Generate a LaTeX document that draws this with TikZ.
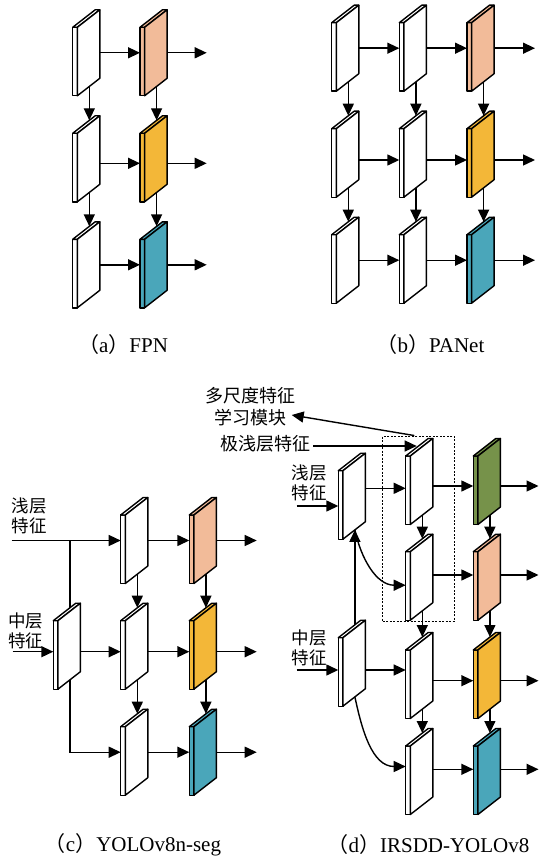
\documentclass[tikz,border=0pt]{standalone}
\usepackage{fontspec}
\setmainfont{Liberation Serif}
\newfontfamily\cjk{Noto Sans CJK SC}
\usetikzlibrary{arrows.meta}
\definecolor{peach}{RGB}{242,187,153}
\definecolor{gold}{RGB}{243,183,56}
\definecolor{teal}{RGB}{74,166,186}
\definecolor{olive}{RGB}{118,146,74}
\tikzset{
  arr/.style={line width=1.4pt, -{Triangle[length=12pt,width=11pt]}},
  ln/.style={line width=1.4pt},
  zh/.style={font=\cjk\fontsize{17.5}{20}\selectfont, align=center, inner sep=0pt},
  captxt/.style={font=\fontsize{21}{24}\selectfont, inner sep=0pt},
  dbox/.style={draw, dash pattern=on 2pt off 1.5pt, line width=0.9pt, inner sep=0pt},
  pics/blk/.style={code={
    \filldraw[fill=#1, line width=1.4pt, line join=round] (0,0) rectangle (4.6,68.5);
    \filldraw[fill=#1, line width=1.4pt, line join=round] (0,0) -- (22.5,-17.5) -- (27.1,-17.5) -- (4.6,0) -- cycle;
    \filldraw[fill=#1, line width=1.4pt, line join=round] (4.6,0) -- (27.1,-17.5) -- (27.1,51) -- (4.6,68.5) -- cycle;
    \coordinate (-w) at (0,25.5);
    \coordinate (-e) at (27.1,25.5);
    \coordinate (-t) at (16.6,-13);
    \coordinate (-b) at (16.6,59.2);
    \coordinate (-tf) at (11,-10);
  }}
}
\begin{document}
\begin{tikzpicture}[x=1pt,y=-1pt]
\useasboundingbox (0,0) rectangle (539,861);

% ---------- (a) FPN ----------
\pic (a11) at (72.7,27.3) {blk=white};
\pic (a12) at (140,27.3) {blk=peach};
\pic (a21) at (72.7,133.3) {blk=white};
\pic (a22) at (140,133.3) {blk=gold};
\pic (a31) at (72.7,239.3) {blk=white};
\pic (a32) at (140,239.3) {blk=teal};
\coordinate (ao1) at (206.7,52.8);
\coordinate (ao2) at (206.7,163.3);
\coordinate (ao3) at (206.7,264.8);
\draw[arr] (a11-e) -- (a12-w);
\draw[arr] ([yshift=-4.5pt]a21-e) -- ([yshift=-4.5pt]a22-w);
\draw[arr] (a31-e) -- (a32-w);
\draw[arr] (a12-e) -- (ao1);
\draw[arr] ([yshift=-4.5pt]a22-e) -- (ao2);
\draw[arr] (a32-e) -- (ao3);
\draw[arr] (a11-b) -- (a21-t);
\draw[arr] (a21-b) -- (a31-t);
\draw[arr] (a12-b) -- (a22-t);
\draw[arr] (a22-b) -- (a32-t);
\node[captxt] (capa) at (123,345) {{\cjk （}a{\cjk ）}FPN};

% ---------- (b) PANet ----------
\pic (b11) at (331.7,22.7) {blk=white};
\pic (b12) at (399.3,22.7) {blk=white};
\pic (b13) at (467,22.7) {blk=peach};
\pic (b21) at (331.7,128.7) {blk=white};
\pic (b22) at (399.3,128.7) {blk=white};
\pic (b23) at (467,128.7) {blk=gold};
\pic (b31) at (331.7,234.7) {blk=white};
\pic (b32) at (399.3,234.7) {blk=white};
\pic (b33) at (467,234.7) {blk=teal};
\coordinate (bo1) at (535,48.2);
\coordinate (bo2) at (535,160);
\coordinate (bo3) at (535,260.2);
\draw[arr] (b11-e) -- (b12-w);
\draw[arr] (b12-e) -- (b13-w);
\draw[arr] (b13-e) -- (bo1);
\draw[arr] ([yshift=-5.8pt]b21-e) -- ([yshift=-5.8pt]b22-w);
\draw[arr] ([yshift=-5.8pt]b22-e) -- ([yshift=-5.8pt]b23-w);
\draw[arr] ([yshift=-5.8pt]b23-e) -- (bo2);
\draw[arr] (b31-e) -- (b32-w);
\draw[arr] (b32-e) -- (b33-w);
\draw[arr] (b33-e) -- (bo3);
\draw[arr] (b11-b) -- (b21-t);
\draw[arr] (b21-b) -- (b31-t);
\draw[arr] (b12-b) -- (b22-t);
\draw[arr] (b22-b) -- (b32-t);
\draw[arr] (b13-b) -- (b23-t);
\draw[arr] (b23-b) -- (b33-t);
\node[captxt] (capb) at (430.5,345) {{\cjk （}b{\cjk ）}PANet};

% ---------- (c) YOLOv8n-seg ----------
\pic (c11) at (120.7,515) {blk=white};
\pic (c12) at (189.3,515) {blk=peach};
\pic (c21) at (120.7,620.7) {blk=white};
\pic (c22) at (189.3,620.7) {blk=gold};
\pic (c31) at (120.7,726.7) {blk=white};
\pic (c32) at (189.3,726.7) {blk=teal};
\pic (cL) at (53.3,620.7) {blk=white};
\node[zh] (lc1) at (29.2,515.5) {浅层\\特征};
\node[zh] (lc2) at (25.8,630.5) {中层\\特征};
\coordinate (cin1) at (11.7,540.5);
\coordinate (cin2) at (12.7,651.7);
\coordinate (cbr) at (cL-t |- c11-w);
\coordinate (co1) at (256.7,540.5);
\coordinate (co2) at (256.7,651.7);
\coordinate (co3) at (256.7,752.2);
\draw[arr] (cin1) -- (c11-w);
\draw[ln] (cbr) -- (cL-t);
\draw[arr] (cin2) -- ([yshift=-5.5pt]cL-w);
\draw[arr] ([yshift=-5.5pt]cL-e) -- ([yshift=-5.5pt]c21-w);
\draw[arr] (cL-b) |- (c31-w);
\draw[arr] (c11-e) -- (c12-w);
\draw[arr] ([yshift=-5.5pt]c21-e) -- ([yshift=-5.5pt]c22-w);
\draw[arr] (c31-e) -- (c32-w);
\draw[arr] (c12-e) -- (co1);
\draw[arr] ([yshift=-5.5pt]c22-e) -- (co2);
\draw[arr] (c32-e) -- (co3);
\draw[arr] (c11-b) -- (c21-t);
\draw[arr] (c21-b) -- (c31-t);
\draw[arr] (c12-b) -- (c22-t);
\draw[arr] (c22-b) -- (c32-t);
\node[captxt] (capc) at (133,845) {{\cjk （}c{\cjk ）}YOLOv8n-seg};

% ---------- (d) IRSDD-YOLOv8 ----------
\pic (dL1) at (338.3,470.7) {blk=white};
\pic (dL2) at (338.3,637.7) {blk=white};
\pic (d1) at (405.7,456) {blk=white};
\pic (d2) at (405.7,551.7) {blk=white};
\pic (d3) at (405.7,650) {blk=white};
\pic (d4) at (405.7,746) {blk=white};
\pic (g1) at (473.3,456) {blk=olive};
\pic (g2) at (473.3,551.7) {blk=peach};
\pic (g3) at (473.3,650) {blk=gold};
\pic (g4) at (473.3,746) {blk=teal};
\node[dbox, minimum width=71.3pt, minimum height=185.7pt] (box) at (418.35,528.85) {};
\node[zh, font=\cjk\fontsize{18}{22}\selectfont] (lm) at (250,406.5) {多尺度特征\\学习模块};
\node[zh, font=\cjk\fontsize{18}{22}\selectfont] (lx) at (265,443.7) {极浅层特征};
\node[zh] (ld1) at (309.2,482.5) {浅层\\特征};
\node[zh] (ld2) at (309.2,647.5) {中层\\特征};
\coordinate (mtip) at (291.7,415);
\coordinate (xin) at (313.3,446);
\coordinate (din1) at (296.7,506);
\coordinate (din2) at (296.7,670);
\coordinate (do1) at (538.5,486);
\coordinate (do2) at (538.5,575);
\coordinate (do3) at (538.5,680.7);
\coordinate (do4) at (538.5,769.3);
\draw[arr] ([xshift=-4pt]box.north) -- (mtip);
\draw[arr] (xin) -- (d1-tf);
\draw[arr] (din1) -- ([yshift=-9.8pt]dL1-w);
\draw[arr] (din2) -- ([yshift=-6.8pt]dL2-w);
\draw[arr] ([yshift=7.9pt]dL1-e) -- ([yshift=-6.8pt]d1-w);
\draw[arr] ([yshift=-6.8pt]dL2-e) -- ([yshift=5.5pt]d3-w);
\draw[arr] (dL2-t) -- (dL1-b);
\draw[arr] (dL1-b) to[out=-78,in=180] ([yshift=-8pt]d2-w);
\draw[arr] (dL2-b) to[out=-78,in=180] ([yshift=5pt]d4-w);
\draw[arr] ([yshift=-4.5pt]d1-e) -- ([yshift=-4.5pt]g1-w);
\draw[arr] ([yshift=2.2pt]d2-e) -- ([yshift=2.2pt]g2-w);
\draw[arr] ([yshift=-5.2pt]d3-e) -- ([yshift=-5.2pt]g3-w);
\draw[arr] ([yshift=2.2pt]d4-e) -- ([yshift=2.2pt]g4-w);
\draw[arr] ([yshift=-4.5pt]g1-e) -- (do1);
\draw[arr] ([yshift=2.2pt]g2-e) -- (do2);
\draw[arr] ([yshift=-5.2pt]g3-e) -- (do3);
\draw[arr] ([yshift=2.2pt]g4-e) -- (do4);
\draw[arr] (d1-b) -- (d2-t);
\draw[arr] (d2-b) -- (d3-t);
\draw[arr] (d3-b) -- (d4-t);
\draw[arr] (g1-b) -- (g2-t);
\draw[arr] (g2-b) -- (g3-t);
\draw[arr] (g3-b) -- (g4-t);
\node[captxt] (capd) at (428.5,845) {{\cjk （}d{\cjk ）}IRSDD-YOLOv8};
\end{tikzpicture}
\end{document}
